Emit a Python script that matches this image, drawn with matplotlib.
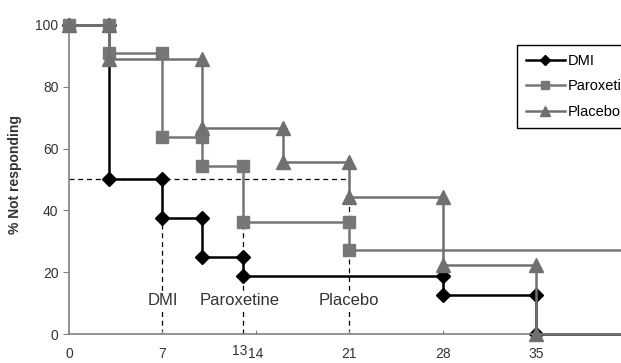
import matplotlib.pyplot as plt
from matplotlib.lines import Line2D

# time to response (days) and % still not responding after each step
days_dmi = [0, 3, 7, 10, 13, 28, 35]
pct_dmi = [100, 50, 37.5, 25, 18.75, 12.5, 0]
days_par = [0, 3, 7, 10, 13, 21]
pct_par = [100, 90.9, 63.6, 54.5, 36.4, 27.3]
days_pla = [0, 3, 10, 16, 21, 28, 35]
pct_pla = [100, 88.9, 66.7, 55.6, 44.4, 22.2, 0]
end_day = 42

# median response times
median_days = [7, 13, 21]
median_names = ['DMI', 'Paroxetine', 'Placebo']

x_ticks = [0, 7, 14, 21, 28, 35, 42]
y_ticks = [0, 20, 40, 60, 80, 100]

plt.rcParams['font.family'] = ['Liberation Sans', 'DejaVu Sans']


def step_points(days, pct):
    xs, ys = [days[0]], [pct[0]]
    for i in range(1, len(days)):
        xs += [days[i], days[i]]
        ys += [pct[i - 1], pct[i]]
    return xs, ys


fig = plt.figure(figsize=(6.21, 3.63), dpi=100)
ax = fig.add_axes([69 / 621, 29 / 363, 552 / 621, 309 / 363])

# median dashed guides
ax.plot([0, max(median_days)], [50, 50], color='black', lw=0.9, ls=(0, (4, 3)), zorder=1)
for d in median_days:
    ax.plot([d, d], [0, 50], color='black', lw=0.9, ls=(0, (4, 3)), zorder=1)

series = [
    (days_dmi, pct_dmi, 'DMI', 'black', 'D', 7),
    (days_par, pct_par, 'Paroxetine', '#777777', 's', 8.5),
    (days_pla, pct_pla, 'Placebo', '#707070', '^', 9.5),
]
handles = []
for k, (d, p, name, col, mk, ms) in enumerate(series):
    xs, ys = step_points(d, p)
    ax.plot(xs + [end_day], ys + [p[-1]], color=col, lw=1.8, zorder=2 + k, clip_on=False)
    ax.plot(xs, ys, ls='none', marker=mk, ms=ms, color=col, zorder=2 + k, clip_on=False)
    handles.append(Line2D([], [], color=col, lw=1.8, marker=mk, ms=ms * 0.7))

# median labels
label_x = [7, 12.8, 21]
for x, name in zip(label_x, median_names):
    ax.text(x, 11, name, ha='center', va='center', fontsize=12, color='#333333',
            bbox=dict(facecolor='white', edgecolor='none', pad=1.5), zorder=6)

ax.set_xticks(x_ticks)
ax.set_yticks(y_ticks)
ax.set_xlim(0, 41.35)
ax.set_ylim(0, 100)
ax.tick_params(axis='x', direction='in', length=3, color='#808080', labelsize=10,
               labelcolor='#333333', pad=9.5)
ax.tick_params(axis='y', direction='out', length=4, color='#808080', labelsize=10,
               labelcolor='#333333')
ax.text(12.8, -5.6, '13', ha='center', va='center', fontsize=10, color='#333333')
for s in ['top', 'right']:
    ax.spines[s].set_visible(False)
for s in ['left', 'bottom']:
    ax.spines[s].set_color('#808080')
    ax.spines[s].set_linewidth(1.2)

fig.text(15 / 621, 1 - 175 / 363, '% Not responding', rotation=90, ha='center', va='center',
         fontsize=10, fontweight='bold', color='#333333')

leg = fig.legend(handles, [s[2] for s in series], loc='upper left',
                 bbox_to_anchor=(517 / 621, 1 - 45 / 363), borderaxespad=0, fontsize=10.5,
                 handlelength=2.7, handletextpad=0.2, labelspacing=0.8,
                 borderpad=0.6, fancybox=False, framealpha=1)
leg.get_frame().set_edgecolor('black')
leg.get_frame().set_linewidth(1.0)

fig.savefig('out.png', dpi=100)
